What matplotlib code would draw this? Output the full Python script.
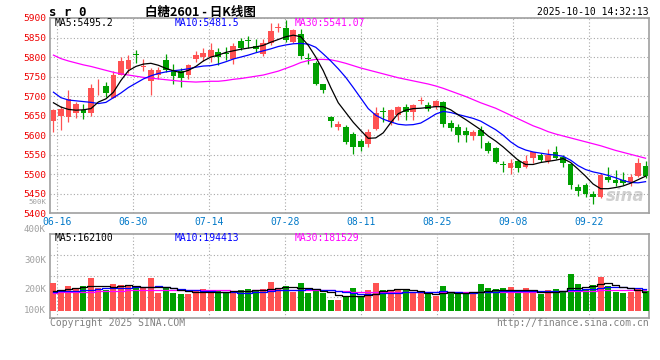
import numpy as np
import matplotlib
matplotlib.use("Agg")
import matplotlib.pyplot as plt
from matplotlib.transforms import ScaledTranslation

# ---- data ----
opens = [5636, 5650, 5647, 5657, 5664, 5657, 5720, 5726, 5696, 5755,
         5769, 5807, 5775, 5739, 5754, 5792, 5766, 5764, 5754, 5794,
         5800, 5801, 5812, 5811, 5795, 5841, 5843, 5829, 5807, 5835,
         5874, 5875, 5839, 5860, 5797, 5784, 5732, 5647, 5621, 5621,
         5603, 5586, 5577, 5617, 5661, 5634, 5651, 5671, 5660, 5688,
         5677, 5671, 5684, 5630, 5622, 5611, 5599, 5613, 5581, 5566,
         5525, 5515, 5534, 5519, 5542, 5548, 5534, 5558, 5545, 5526,
         5468, 5473, 5450, 5443, 5492, 5486, 5485, 5479, 5496, 5521]
highs = [5668, 5674, 5715, 5684, 5681, 5732, 5743, 5737, 5764, 5799,
         5805, 5818, 5795, 5771, 5775, 5809, 5783, 5771, 5783, 5815,
         5822, 5837, 5822, 5826, 5837, 5849, 5854, 5846, 5847, 5886,
         5888, 5894, 5873, 5873, 5810, 5790, 5732, 5650, 5636, 5625,
         5608, 5590, 5615, 5673, 5671, 5668, 5675, 5681, 5679, 5697,
         5685, 5690, 5687, 5639, 5628, 5620, 5613, 5623, 5586, 5571,
         5535, 5539, 5540, 5549, 5558, 5554, 5564, 5572, 5548, 5528,
         5474, 5477, 5457, 5502, 5519, 5511, 5507, 5501, 5541, 5535]
lows = [5607, 5612, 5634, 5645, 5641, 5650, 5704, 5698, 5694, 5754,
        5760, 5784, 5764, 5703, 5745, 5762, 5732, 5724, 5745, 5788,
        5790, 5788, 5779, 5792, 5782, 5818, 5822, 5813, 5803, 5830,
        5863, 5838, 5836, 5796, 5783, 5728, 5708, 5621, 5613, 5578,
        5553, 5560, 5570, 5612, 5634, 5625, 5640, 5639, 5639, 5680,
        5662, 5667, 5622, 5611, 5583, 5583, 5588, 5566, 5555, 5528,
        5507, 5500, 5507, 5515, 5528, 5532, 5530, 5539, 5519, 5462,
        5445, 5443, 5423, 5440, 5481, 5471, 5473, 5471, 5492, 5491]
closes = [5664, 5668, 5692, 5680, 5657, 5721, 5722, 5709, 5755, 5790,
          5792, 5805, 5777, 5766, 5766, 5766, 5752, 5747, 5779, 5805,
          5811, 5818, 5801, 5809, 5828, 5824, 5841, 5820, 5836, 5867,
          5876, 5843, 5869, 5803, 5795, 5732, 5715, 5637, 5628, 5583,
          5570, 5570, 5609, 5656, 5659, 5664, 5671, 5660, 5677, 5690,
          5668, 5688, 5628, 5619, 5600, 5600, 5609, 5599, 5560, 5532,
          5523, 5528, 5517, 5534, 5556, 5537, 5549, 5542, 5528, 5473,
          5458, 5450, 5443, 5498, 5484, 5477, 5477, 5492, 5530, 5496]

ma5 = [5683, 5672, 5666, 5664, 5665, 5668, 5685, 5693, 5710, 5740,
       5765, 5776, 5782, 5784, 5779, 5771, 5765, 5760, 5766, 5776,
       5790, 5800, 5805, 5812, 5816, 5820, 5823, 5826, 5830, 5838,
       5845, 5852, 5856, 5852, 5830, 5800, 5765, 5722, 5683, 5658,
       5633, 5612, 5592, 5593, 5606, 5632, 5655, 5664, 5668, 5669,
       5671, 5673, 5673, 5665, 5652, 5640, 5627, 5614, 5598, 5585,
       5570, 5553, 5536, 5525, 5525, 5530, 5533, 5536, 5540, 5530,
       5513, 5495, 5475, 5463, 5463, 5466, 5470, 5477, 5486, 5495]
ma10 = [5710, 5696, 5690, 5688, 5686, 5684, 5681, 5684, 5696, 5708,
        5722, 5733, 5744, 5752, 5758, 5762, 5765, 5767, 5770, 5774,
        5777, 5778, 5782, 5788, 5795, 5800, 5805, 5811, 5816, 5821,
        5827, 5831, 5834, 5835, 5833, 5825, 5808, 5790, 5770, 5748,
        5722, 5695, 5668, 5651, 5641, 5634, 5628, 5626, 5627, 5631,
        5642, 5654, 5661, 5658, 5653, 5648, 5643, 5636, 5625, 5614,
        5600, 5583, 5570, 5562, 5557, 5554, 5551, 5549, 5546, 5536,
        5522, 5512, 5506, 5502, 5497, 5491, 5484, 5479, 5478, 5481]
ma30 = [5805, 5796, 5790, 5785, 5780, 5776, 5771, 5766, 5761, 5757,
        5754, 5751, 5748, 5746, 5744, 5742, 5740, 5738, 5737, 5736,
        5737, 5738, 5738, 5740, 5743, 5745, 5748, 5751, 5754, 5759,
        5764, 5771, 5778, 5786, 5791, 5794, 5794, 5793, 5789, 5784,
        5778, 5772, 5767, 5762, 5757, 5752, 5747, 5743, 5739, 5735,
        5731, 5726, 5720, 5713, 5706, 5699, 5691, 5683, 5676, 5669,
        5660, 5651, 5642, 5633, 5624, 5617, 5609, 5603, 5598, 5593,
        5588, 5583, 5578, 5573, 5567, 5561, 5556, 5551, 5546, 5541]

# volume in thousands
volume = [246, 167, 219, 202, 219, 289, 196, 184, 234, 225,
          219, 202, 202, 289, 158, 211, 158, 146, 146, 181,
          190, 175, 175, 152, 172, 181, 190, 175, 190, 254,
          190, 219, 167, 246, 158, 187, 158, 96, 94, 123,
          199, 129, 181, 243, 181, 181, 190, 187, 158, 158,
          146, 132, 217, 152, 152, 152, 152, 234, 199, 187,
          199, 205, 167, 199, 181, 144, 181, 190, 164, 322,
          234, 187, 225, 296, 219, 164, 152, 167, 196, 175]
vma5 = [175, 180, 188, 195, 205, 215, 217, 215, 212, 218,
        222, 215, 210, 212, 210, 205, 198, 185, 170, 160,
        160, 162, 165, 168, 170, 172, 175, 178, 182, 190,
        198, 205, 210, 202, 195, 190, 175, 160, 140, 125,
        125, 128, 135, 150, 170, 182, 188, 188, 180, 170,
        158, 150, 152, 160, 158, 155, 160, 168, 175, 180,
        182, 182, 182, 180, 178, 165, 160, 162, 172, 195,
        200, 205, 215, 238, 240, 225, 212, 195, 180, 162]
vma10 = [167, 170, 173, 176, 180, 185, 190, 196, 198, 200,
         202, 205, 205, 210, 215, 210, 198, 190, 185, 180,
         176, 172, 168, 163, 160, 158, 158, 160, 165, 175,
         182, 182, 183, 185, 186, 187, 185, 180, 170, 160,
         155, 150, 148, 150, 152, 152, 155, 160, 165, 167,
         167, 167, 170, 168, 160, 158, 158, 160, 165, 168,
         170, 172, 174, 175, 175, 175, 175, 175, 177, 180,
         182, 186, 192, 200, 205, 205, 204, 202, 198, 194]
vma30 = [158, 160, 162, 164, 166, 168, 170, 172, 174, 176,
         178, 180, 181, 182, 182, 182, 182, 182, 182, 181,
         180, 179, 178, 178, 177, 177, 177, 178, 179, 180,
         181, 182, 182, 182, 182, 181, 180, 178, 175, 170,
         165, 162, 161, 160, 160, 160, 160, 160, 161, 161,
         162, 162, 163, 163, 163, 163, 163, 163, 164, 164,
         164, 165, 165, 166, 166, 166, 167, 168, 169, 170,
         172, 175, 177, 180, 183, 185, 185, 184, 183, 182]

date_labels = ["06-16", "06-30", "07-14", "07-28", "08-11", "08-25", "09-08", "09-22"]
price_ticks = [5400, 5450, 5500, 5550, 5600, 5650, 5700, 5750, 5800, 5850, 5900]
vol_labels = ["500K", "400K", "300K", "200K", "100K"]

# ---- styling ----
RED = "#ff5252"
GREEN = "#00a000"
GRID = "#a8a8a8"
BORDER = "#a0a0a0"
mono = "DejaVu Sans Mono"
W, H = 660, 360

def px(x, y):
    return x / W, 1 - y / H

fig = plt.figure(figsize=(6.6, 3.6), dpi=100)
ax1 = fig.add_axes([49.7 / W, 1 - 213.3 / H, 599.6 / W, (213.3 - 18) / H])
ax2 = fig.add_axes([49.7 / W, 1 - 317.7 / H, 599.6 / W, (317.7 - 234.3) / H])

n = len(closes)
x = np.arange(n)
o = np.array(opens); c = np.array(closes)
cols = [RED if cc >= oo else GREEN for oo, cc in zip(o, c)]

# date grid positions, evenly spaced every 76px starting 7.6px in
tick_x = [(7.6 + 76 * k) / 600 * n - 0.5 for k in range(len(date_labels))]

# price panel
ax1.vlines(x, lows, highs, colors=cols, lw=0.9, zorder=3)
body_h = np.maximum(np.abs(c - o), 2.0)
ax1.bar(x, body_h, bottom=np.minimum(o, c), width=0.76, color=cols, lw=0, zorder=4)
ax1.plot(x, ma30, color="#ff00ff", lw=0.9, zorder=5)
ax1.plot(x, ma10, color="#0000ff", lw=0.9, zorder=5)
ax1.plot(x, ma5, color="black", lw=0.9, zorder=5)
ax1.set_xlim(-0.5, n - 0.5)
ax1.set_ylim(5400, 5900)
ax1.set_yticks(price_ticks)
ax1.set_yticklabels([str(t) for t in price_ticks], color="#ee0000", family=mono, fontsize=6.8)
for lab in ax1.get_yticklabels():
    lab.set_transform(lab.get_transform() + ScaledTranslation(0, 1.5 / 72, fig.dpi_scale_trans))
ax1.set_xticks(tick_x)
ax1.set_xticklabels(date_labels, color="#0078c8", family=mono, fontsize=7)
ax1.tick_params(length=0, pad=2.5)
ax1.grid(True, color=GRID, ls=(0, (1, 2)), lw=0.8)
ax1.text(0.96, 0.09, "sina", transform=ax1.transAxes, ha="center", va="center",
         fontsize=12, fontweight="bold", style="italic", color="#d0d0d0", zorder=1)

# volume panel
ax2.bar(x, volume, width=0.8, color=cols, lw=0, zorder=3)
ax2.plot(x, vma30, color="#ff00ff", lw=0.9, drawstyle="steps-mid", zorder=5)
ax2.plot(x, vma10, color="#0000ff", lw=0.9, drawstyle="steps-mid", zorder=5)
ax2.plot(x, vma5, color="black", lw=0.9, drawstyle="steps-mid", zorder=5)
ax2.set_xlim(-0.5, n - 0.5)
ax2.set_ylim(-61.4, 670)
ax2.set_yticks([121.5, 304.3, 487.0])
ax2.set_yticklabels([])
ax2.set_xticks(tick_x)
ax2.set_xticklabels([])
ax2.tick_params(length=0)
ax2.grid(True, color=GRID, ls=(0, (1, 2)), lw=0.8)

for ax in (ax1, ax2):
    ax.set_facecolor("white")
    for s in ax.spines.values():
        s.set_color(BORDER)
        s.set_linewidth(1.2)

# volume axis labels (placed as in the reference)
for lab, yy, fs in zip(vol_labels, [202, 230, 260.5, 290, 310.5], [5.3, 6.6, 6.6, 6.6, 6.6]):
    fig.text(*px(46, yy), lab, ha="right", va="center", color="#a0a0a0",
             family=mono, fontsize=fs)

# legends
fig.text(*px(54.5, 23.5), "MA5:5495.2", color="black", family=mono, fontsize=7, va="center")
fig.text(*px(174.5, 23.5), "MA10:5481.5", color="#0000ff", family=mono, fontsize=7, va="center")
fig.text(*px(295, 23.5), "MA30:5541.07", color="#ff00ff", family=mono, fontsize=7, va="center")
fig.text(*px(54.5, 238), "MA5:162100", color="black", family=mono, fontsize=7, va="center")
fig.text(*px(174.5, 238), "MA10:194413", color="#0000ff", family=mono, fontsize=7, va="center")
fig.text(*px(295, 238), "MA30:181529", color="#ff00ff", family=mono, fontsize=7, va="center")

# header
fig.text(*px(49, 12), "s r 0", color="black", family=mono, fontsize=9,
         fontweight="bold", va="center")
fig.text(*px(200, 12), "白糖2601 - 日K线图", color="black",
         family=["Noto Sans CJK SC", "DejaVu Sans"], fontsize=9, fontweight="bold",
         ha="center", va="center")
fig.text(*px(649, 12), "2025-10-10 14:32:13", color="black", family=mono,
         fontsize=7, ha="right", va="center")

# footer
fig.text(*px(50, 323.5), "Copyright 2025 SINA.COM", color="#808080", family=mono,
         fontsize=7, va="center")
fig.text(*px(649, 323.5), "http://finance.sina.com.cn", color="#808080", family=mono,
         fontsize=7, ha="right", va="center")

fig.savefig("out.png", dpi=100, facecolor="white")
